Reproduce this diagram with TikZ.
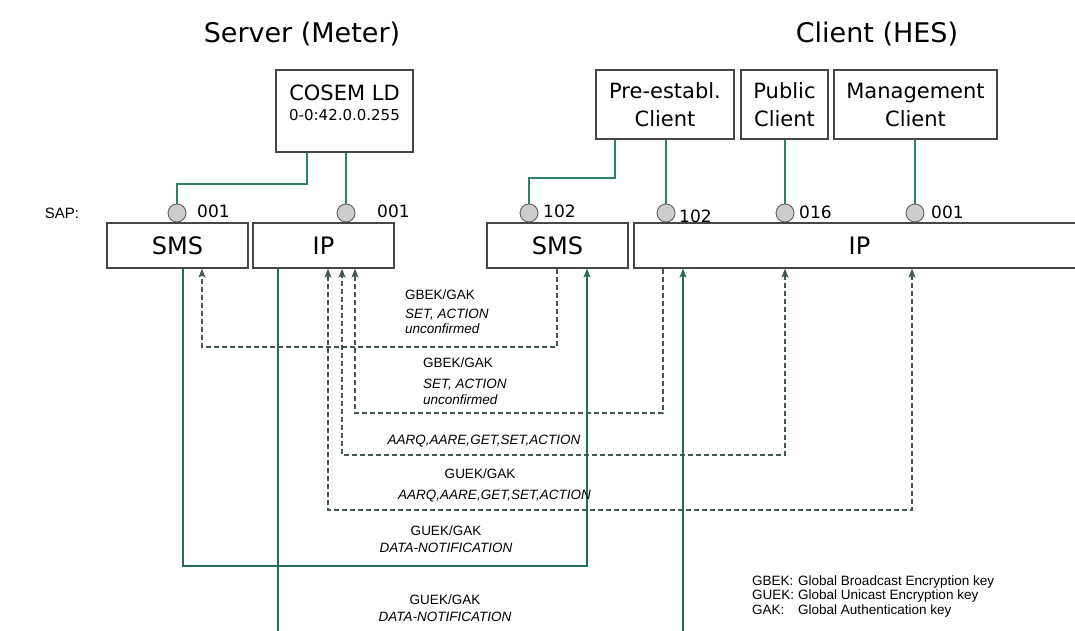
\documentclass[tikz,border=0pt]{standalone}
\usepackage{fontspec}
\setmainfont{Liberation Sans}
\newfontfamily\vfont{DejaVu Sans}
\usetikzlibrary{arrows.meta,calc}

\definecolor{boxgray}{RGB}{70,70,70}
\definecolor{sapfill}{RGB}{205,205,205}
\definecolor{sapline}{RGB}{95,95,95}
\definecolor{linkteal}{RGB}{45,130,110}
\definecolor{flowgreen}{RGB}{35,110,90}
\definecolor{dashgray}{RGB}{68,88,82}

\tikzset{
  box/.style={draw=boxgray,line width=1.2pt,inner sep=0pt,align=center,
    font=\vfont\fontsize{24}{28}\selectfont},
  cbox/.style={box,minimum height=69pt,font=\vfont\fontsize{21}{28}\selectfont},
  sap/.style={circle,draw=sapline,fill=sapfill,line width=0.9pt,minimum size=18pt,inner sep=0pt},
  sapno/.style={anchor=west,inner sep=0pt,font=\vfont\fontsize{17}{20}\selectfont},
  link/.style={draw=linkteal,line width=1.1pt},
  tip/.tip={Stealth[length=9pt,width=7pt,inset=2pt]},
  flow/.style={draw=flowgreen,line width=1.1pt,-tip},
  dflow/.style={draw=dashgray,line width=1.1pt,dash pattern=on 5pt off 3pt,-tip},
  lbl/.style={inner sep=0pt,font=\fontsize{13.5}{16}\selectfont}
}

\begin{document}
\begin{tikzpicture}[x=1pt,y=-1pt]
\useasboundingbox (0,0) rectangle (1075,631);
%titles
\node[font=\vfont\fontsize{27}{30}\selectfont] (srvtitle) at (302,34) {Server (Meter)};
\node[font=\vfont\fontsize{27}{30}\selectfont] (clititle) at (877,34) {Client (HES)};
\node[font=\fontsize{15}{18}\selectfont] (saplbl) at (62,213) {SAP:};
%application processes
\node[box,minimum width=137pt,minimum height=82pt] (cosem) at (344.5,111) {};
\node[inner sep=0pt,font=\vfont\fontsize{21}{24}\selectfont] (cosemname) at (344.5,93) {COSEM LD};
\node[inner sep=0pt,font=\vfont\fontsize{15}{18}\selectfont] (cosemaddr) at (344.5,115) {0-0:42.0.0.255};
\node[cbox,minimum width=138pt] (pre) at (665,104.5) {Pre-establ.\\Client};
\node[cbox,minimum width=87pt] (pub) at (784.5,104.5) {Public\\Client};
\node[cbox,minimum width=163pt] (mgmt) at (915.5,104.5) {Management\\Client};
%transport layers
\node[box,minimum width=141pt,minimum height=45pt] (ssms) at (177.5,245.5) {SMS};
\node[box,minimum width=141pt,minimum height=45pt] (sip) at (323.5,245.5) {IP};
\node[box,minimum width=141pt,minimum height=45pt] (csms) at (557.5,245.5) {SMS};
\node[box,minimum width=451pt,minimum height=45pt] (cip) at (859.5,245.5) {IP};
%SAP circles
\foreach \n/\x in {1/177,2/346,3/529,4/666,5/785,6/915}
  \node[sap] (sap\n) at (\x,213) {};
\foreach \n/\x/\y/\lab in {1/197/211/001,2/377/211/001,3/543/211/102,4/679/216/102,5/799/212/016,6/931/212/001}
  \node[sapno] (sapno\n) at (\x,\y) {\lab};
%links
\draw[link] (307,0 |- cosem.south) -- (307,184) -| (sap1);
\draw[link] (cosem.south -| sap2) -- (sap2);
\draw[link] (615,0 |- pre.south) -- (615,178) -| (sap3);
\draw[link] (pre.south -| sap4) -- (sap4);
\draw[link] (pub.south -| sap5) -- (sap5);
\draw[link] (mgmt.south -| sap6) -- (sap6);
%flows
\coordinate (offl) at (278,640);
\coordinate (offr) at (683,640);
\draw[dflow] (557,0 |- csms.south) |- (202,347) -- (202,0 |- ssms.south);
\draw[dflow] (663,0 |- cip.south) |- (355,413) -- (355,0 |- sip.south);
\draw[dflow,tip-tip] (785,0 |- cip.south) |- (342,455) -- (342,0 |- sip.south);
\draw[dflow,tip-tip] (912,0 |- cip.south) |- (328,510) -- (328,0 |- sip.south);
\draw[flow] (183,0 |- ssms.south) |- (587,566) -- (587,0 |- csms.south);
\draw[flow,-] (278,0 |- sip.south) -- (offl);
\draw[flow] (offr) -- (683,0 |- cip.south);
%flow labels
\node[lbl,align=left,anchor=north west] (bc1) at (405,290) {GBEK/GAK\\[3pt]\textit{SET, ACTION}\\[-1pt]\textit{unconfirmed}};
\node[lbl,align=left,anchor=north west] (bc2) at (423,358) {GBEK/GAK\\[5pt]\textit{SET, ACTION}\\[0pt]\textit{unconfirmed}};
\node[lbl] (uc1) at (484,441) {\textit{AARQ,AARE,GET,SET,ACTION}};
\node[lbl] (uc2key) at (480,474) {GUEK/GAK};
\node[lbl] (uc2) at (494.5,496) {\textit{AARQ,AARE,GET,SET,ACTION}};
\node[lbl,align=center,anchor=north] (dn1) at (446,526) {GUEK/GAK\\[1pt]\textit{DATA-NOTIFICATION}};
\node[lbl,align=center,anchor=north] (dn2) at (445,595) {GUEK/GAK\\[1pt]\textit{DATA-NOTIFICATION}};
%key legend
\node[inner sep=0pt,anchor=base west,font=\fontsize{13.5}{14.5}\selectfont] (keys) at (752,585)
  {\begin{tabular}[t]{@{}l@{\hspace{4pt}}l@{}}
   GBEK: & Global Broadcast Encryption key\\
   GUEK: & Global Unicast Encryption key\\
   GAK: & Global Authentication key
   \end{tabular}};
\end{tikzpicture}
\end{document}
